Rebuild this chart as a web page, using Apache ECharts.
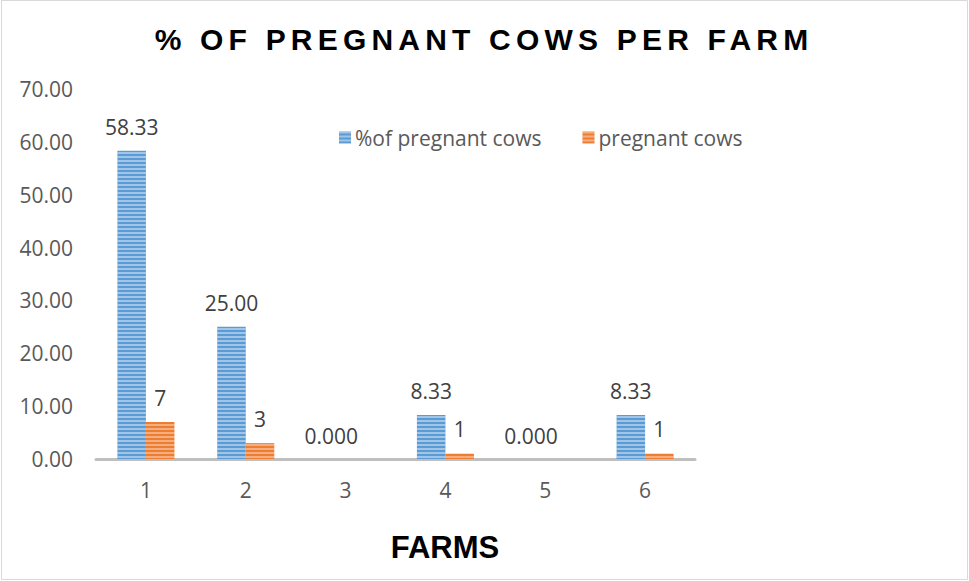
<!DOCTYPE html>
<html>
<head>
<meta charset="utf-8">
<title>% of pregnant cows per farm</title>
<script src="https://cdn.jsdelivr.net/npm/echarts@6/dist/echarts.min.js"></script>
<style>
  html, body { margin: 0; padding: 0; background: #ffffff; }
  #chart { width: 969px; height: 581px; }
  /* tracked-out chart heading */
  #chart text[style*="30px"] { letter-spacing: 5.2px; }
</style>
</head>
<body>
<div id="chart"></div>
<script>
// Farm numbers on the category axis
const farms = ['1', '2', '3', '4', '5', '6'];
// Share of cows that are pregnant, per farm (%)
const pctPregnant = [58.33, 25.00, 0, 8.33, 0, 8.33];
// Number of pregnant cows, per farm
const pregnantCows = [7, 3, 0, 1, 0, 1];
// Value axis tick labels
const yTicks = ['0.00', '10.00', '20.00', '30.00', '40.00', '50.00', '60.00', '70.00'];

const seriesNames = ['%of pregnant cows', 'pregnant cows'];
const labelFont = 'Open Sans';
const labelSize = 21;

const chart = echarts.init(document.getElementById('chart'), null, { renderer: 'svg' });

const stripes = (alpha) => ({
  symbol: 'rect',
  symbolSize: 1,
  dashArrayX: [1, 0],
  dashArrayY: [2, 2],
  rotation: 0,
  color: 'rgba(255,255,255,' + alpha + ')'
});

const option = {
  animation: false,
  backgroundColor: '#ffffff',
  graphic: [
    {
      type: 'rect',
      shape: { x: 1.5, y: 0.5, width: 966, height: 579 },
      style: { fill: 'none', stroke: '#d9d9d9', lineWidth: 1 },
      silent: true
    },
    {
      type: 'text',
      x: 484,
      y: 39,
      style: {
        text: '% OF PREGNANT COWS PER FARM',
        font: 'bold 30px "Liberation Sans", Arial, sans-serif',
        fill: '#000000',
        textAlign: 'center',
        textVerticalAlign: 'middle'
      }
    },
    {
      type: 'text',
      x: 445,
      y: 547,
      style: {
        text: 'FARMS',
        font: 'bold 31px "Liberation Sans", Arial, sans-serif',
        fill: '#000000',
        textAlign: 'center',
        textVerticalAlign: 'middle'
      }
    }
  ],
  legend: {
    data: seriesNames,
    left: 334,
    top: 122,
    itemWidth: 12,
    itemHeight: 12,
    itemGap: 41,
    icon: 'rect',
    textStyle: { fontFamily: labelFont, fontSize: labelSize, color: '#595959', padding: [0, 0, 0, -1] }
  },
  grid: { left: 96, right: 274, top: 89, bottom: 122, containLabel: false },
  xAxis: {
    type: 'category',
    data: farms,
    axisLine: { show: true, lineStyle: { color: '#bfbfbf', width: 3 } },
    axisTick: { show: false },
    axisLabel: { fontFamily: labelFont, fontSize: labelSize, color: '#595959', margin: 20 },
    splitLine: { show: false }
  },
  yAxis: {
    type: 'value',
    min: 0,
    max: 70,
    interval: 10,
    axisLine: { show: false },
    axisTick: { show: false },
    splitLine: { show: false },
    axisLabel: {
      fontFamily: labelFont,
      fontSize: labelSize,
      color: '#595959',
      margin: 23,
      formatter: (v) => yTicks[Math.round(v / 10)]
    }
  },
  series: [
    {
      name: seriesNames[0],
      type: 'bar',
      data: pctPregnant,
      barWidth: 28.5,
      barGap: '0%',
      itemStyle: { color: '#5b9bd5', decal: stripes(0.42) },
      label: {
        show: true,
        position: 'top',
        distance: 13,
        fontFamily: labelFont,
        fontSize: labelSize,
        color: '#404040',
        formatter: (p) => (p.value === 0 ? '0.000' : p.value.toFixed(2))
      }
    },
    {
      name: seriesNames[1],
      type: 'bar',
      data: pregnantCows,
      barWidth: 28.5,
      barGap: '0%',
      itemStyle: { color: '#ed7d31', decal: stripes(0.38) },
      label: {
        show: true,
        position: 'top',
        distance: 14,
        fontFamily: labelFont,
        fontSize: labelSize,
        color: '#404040',
        formatter: (p) => (p.value === 0 ? '' : String(p.value))
      }
    }
  ]
};

chart.setOption(option);
</script>
</body>
</html>
